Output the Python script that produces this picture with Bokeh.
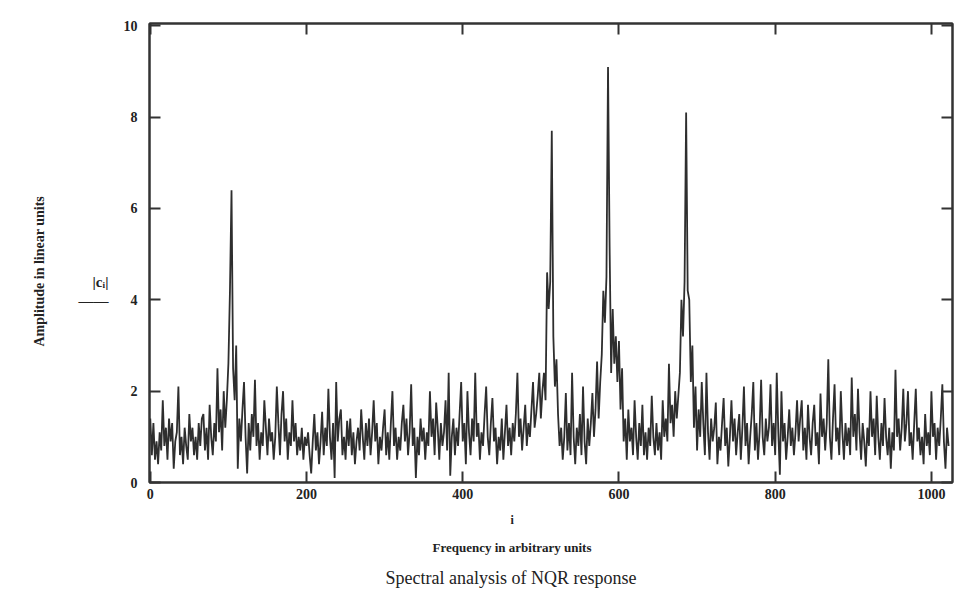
from bokeh.plotting import figure
from bokeh.models import LinearAxis, FixedTicker, Range1d, Title
from bokeh.embed import file_html
from bokeh.resources import INLINE

# Frequency index step (values read every 2 units of i)
step = 2
amplitude = [
    1.4, 0.6, 1.3, 0.5, 0.9, 0.4, 1.1, 0.7, 1.8, 0.8, 1.2, 0.5, 1.4, 0.9, 1.3, 0.3,
    0.9, 1.1, 2.1, 0.6, 1.0, 0.4, 1.2, 0.8, 0.5, 1.5, 0.9, 1.2, 0.6, 1.0, 0.5, 1.3,
    0.8, 1.4, 1.5, 0.7, 1.2, 0.5, 1.7, 1.0, 0.6, 1.3, 0.9, 2.5, 1.1, 1.6, 0.7, 2.0,
    1.2, 1.8, 2.6, 4.2, 6.4, 2.5, 1.8, 3.0, 0.3, 1.4, 0.9, 1.6, 2.2, 1.0, 0.2, 1.3,
    0.7, 1.5, 1.0, 2.25, 0.8, 1.3, 0.5, 1.1, 0.8, 1.8, 1.2, 0.6, 1.4, 0.9, 1.1, 0.5,
    1.0, 2.1, 1.3, 0.6, 1.5, 2.0, 0.9, 1.4, 0.5, 1.1, 0.8, 1.8, 0.9, 1.3, 0.6, 1.0,
    0.7, 1.2, 0.5, 1.0, 0.8, 1.1, 0.6, 0.2, 0.9, 1.5, 0.7, 1.1, 0.4, 0.9, 1.55, 0.6,
    1.2, 0.8, 2.05, 1.0, 0.5, 1.3, 0.1, 2.2, 0.9, 1.4, 1.6, 0.6, 1.0, 0.5, 1.35, 0.8,
    1.4, 0.6, 1.1, 0.4, 0.9, 1.2, 0.7, 1.6, 1.0, 0.5, 1.3, 0.8, 1.4, 0.6, 1.1, 1.8,
    0.9, 1.3, 0.4, 1.0, 0.7, 1.2, 1.6, 0.6, 1.1, 0.5, 1.3, 2.0, 0.8, 1.2, 0.5, 1.0,
    0.7, 1.3, 1.7, 0.9, 1.4, 0.6, 1.1, 2.15, 0.8, 1.2, 0.1, 1.0, 0.6, 1.4, 0.9, 1.2,
    0.5, 1.1, 0.8, 2.0, 1.0, 1.4, 0.6, 1.75, 1.2, 0.5, 1.3, 0.8, 1.1, 1.8, 0.7, 2.4,
    0.15, 1.0, 1.4, 0.6, 1.2, 0.8, 1.5, 2.2, 0.9, 1.3, 0.4, 2.0, 1.1, 0.6, 1.4, 0.9,
    2.4, 1.0, 1.3, 0.5, 1.1, 0.8, 1.5, 2.1, 1.0, 0.6, 1.3, 1.85, 0.9, 1.2, 0.4, 1.0,
    0.7, 1.4, 0.5, 1.1, 1.7, 0.8, 1.2, 0.6, 1.3, 0.9, 1.5, 2.4, 1.0, 1.4, 0.7, 1.2,
    1.7, 0.8, 1.3, 1.0, 1.6, 2.2, 1.2, 1.5, 1.9, 2.4, 1.4, 2.0, 2.4, 1.8, 4.6, 3.8,
    4.4, 7.7, 3.2, 2.1, 2.7, 1.5, 0.8, 1.2, 0.5, 1.0, 1.96, 0.7, 1.3, 0.6, 2.4, 1.0,
    0.4, 1.2, 0.8, 1.5, 0.6, 2.1, 0.9, 0.4, 1.4, 0.8, 1.3, 1.96, 1.0, 1.6, 2.65, 1.4,
    2.2, 2.8, 4.2, 3.5, 4.5, 9.1, 5.2, 2.4, 3.8, 2.6, 3.2, 2.2, 3.1, 1.6, 2.5, 0.9,
    1.4, 0.5, 1.6, 0.9, 1.2, 0.6, 1.8, 1.0, 0.5, 1.3, 0.8, 1.7, 0.6, 1.1, 0.5, 1.2,
    0.8, 1.9, 1.0, 0.6, 1.3, 0.7, 1.1, 0.5, 1.8, 1.0, 1.4, 0.9, 2.6, 1.3, 1.7, 1.0,
    2.0, 1.4, 1.9, 2.4, 4.0, 3.2, 4.4, 8.1, 4.2, 4.0, 2.2, 3.0, 1.2, 2.1, 0.7, 1.6,
    1.0, 2.2, 1.3, 0.6, 2.4, 1.1, 0.5, 1.4, 0.9, 1.2, 1.75, 0.4, 1.0, 0.7, 1.3, 1.85,
    0.8, 1.2, 0.35, 1.0, 1.8, 0.9, 1.4, 0.6, 1.1, 1.5, 0.5, 1.2, 2.1, 0.8, 1.3, 0.4,
    1.0, 1.5, 2.2, 0.7, 1.3, 0.5, 1.1, 2.25, 1.0, 0.6, 1.4, 0.9, 1.2, 2.15, 0.8, 1.3,
    0.6, 2.4, 1.1, 0.17, 2.0, 0.9, 1.3, 0.5, 1.0, 1.6, 0.8, 1.2, 0.6, 1.1, 1.8, 0.9,
    1.4, 1.8, 0.7, 1.2, 0.5, 1.7, 1.0, 0.6, 1.3, 1.7, 0.8, 1.1, 0.4, 1.95, 1.0, 1.4,
    0.7, 1.3, 2.7, 1.0, 0.5, 1.4, 2.15, 0.9, 1.2, 0.6, 2.0, 1.1, 0.5, 1.3, 0.8, 1.2,
    0.6, 2.3, 1.0, 1.5, 0.7, 2.05, 1.1, 0.5, 1.3, 0.9, 0.35, 1.2, 0.8, 2.0, 1.0, 1.4,
    0.6, 1.9, 1.0, 0.5, 1.3, 0.8, 1.85, 1.0, 0.6, 1.2, 0.3, 1.1, 0.7, 2.47, 1.0, 1.4,
    0.7, 1.2, 2.05, 0.9, 1.3, 2.0, 0.8, 1.1, 0.5, 1.3, 2.05, 0.9, 1.2, 0.6, 1.0, 0.4,
    1.5, 0.8, 1.1, 0.6, 2.0, 1.0, 1.3, 0.5, 1.2, 0.8, 1.4, 2.15, 0.9, 0.3, 1.2, 0.8,
]
freq = [i * step for i in range(len(amplitude))]

x_ticks = [0, 200, 400, 600, 800, 1000]
y_ticks = [0, 2, 4, 6, 8, 10]

W, H = 958, 597
p = figure(width=W, height=H, output_backend="svg", toolbar_location=None,
           x_range=Range1d(-1, 1027), y_range=Range1d(0, 10.05),
           min_border_left=149, min_border_right=6, min_border_top=23,
           min_border_bottom=114, background_fill_color="white",
           border_fill_color="white")
p.grid.visible = False
p.outline_line_color = "#333333"
p.outline_line_width = 2

p.line(freq, amplitude, line_color="#2e2e2e", line_width=1.8)

FONT = "Liberation Serif"
for ax in (p.xaxis[0], p.yaxis[0]):
    ax.major_tick_in = 11
    ax.major_tick_out = 0
    ax.minor_tick_in = 0
    ax.minor_tick_out = 0
    ax.axis_line_color = "#333333"
    ax.axis_line_width = 2
    ax.major_tick_line_color = "#333333"
    ax.major_tick_line_width = 2
    ax.major_label_text_font = FONT
    ax.major_label_text_font_style = "bold"
    ax.major_label_text_font_size = "14px"
    ax.major_label_text_color = "#222222"
p.xaxis[0].ticker = FixedTicker(ticks=x_ticks)
p.yaxis[0].ticker = FixedTicker(ticks=y_ticks)
p.xaxis[0].major_label_standoff = 6
p.yaxis[0].major_label_standoff = 12

# y-axis expression label |c_i| (blank lines push it below the frame centre)
p.yaxis[0].axis_label = "\n\n\n\n|cᵢ|\n——"
p.yaxis[0].axis_label_orientation = "horizontal"
p.yaxis[0].axis_label_text_font = FONT
p.yaxis[0].axis_label_text_font_style = "bold"
p.yaxis[0].axis_label_text_font_size = "15px"
p.yaxis[0].axis_label_text_color = "#222222"
p.yaxis[0].axis_label_text_align = "center"
p.yaxis[0].axis_label_standoff = 12

for loc, ticks in (("right", y_ticks), ("above", x_ticks)):
    ax = LinearAxis(ticker=FixedTicker(ticks=ticks))
    ax.major_tick_in = 11
    ax.major_tick_out = 0
    ax.minor_tick_in = 0
    ax.minor_tick_out = 0
    ax.major_label_text_font_size = "0px"
    ax.major_label_text_alpha = 0
    ax.axis_line_color = "#333333"
    ax.axis_line_width = 2
    ax.major_tick_line_color = "#333333"
    ax.major_tick_line_width = 2
    p.add_layout(ax, loc)

def title(text, loc, size, bold, standoff, offset=0):
    t = Title(text=text, align="left", text_font=FONT, text_font_size=size,
              text_font_style="bold" if bold else "normal", text_color="#222222",
              standoff=standoff, offset=offset)
    p.add_layout(t, loc)

title("i", "below", "12px", True, 19, 361)
title("Frequency in arbitrary units", "below", "13px", True, 2, 283)
title("Spectral analysis of NQR response", "below", "18px", False, 20, 236)
title("Amplitude in linear units", "left", "14px", True, 57, 136)

open("out.html", "w").write(file_html(p, INLINE))
